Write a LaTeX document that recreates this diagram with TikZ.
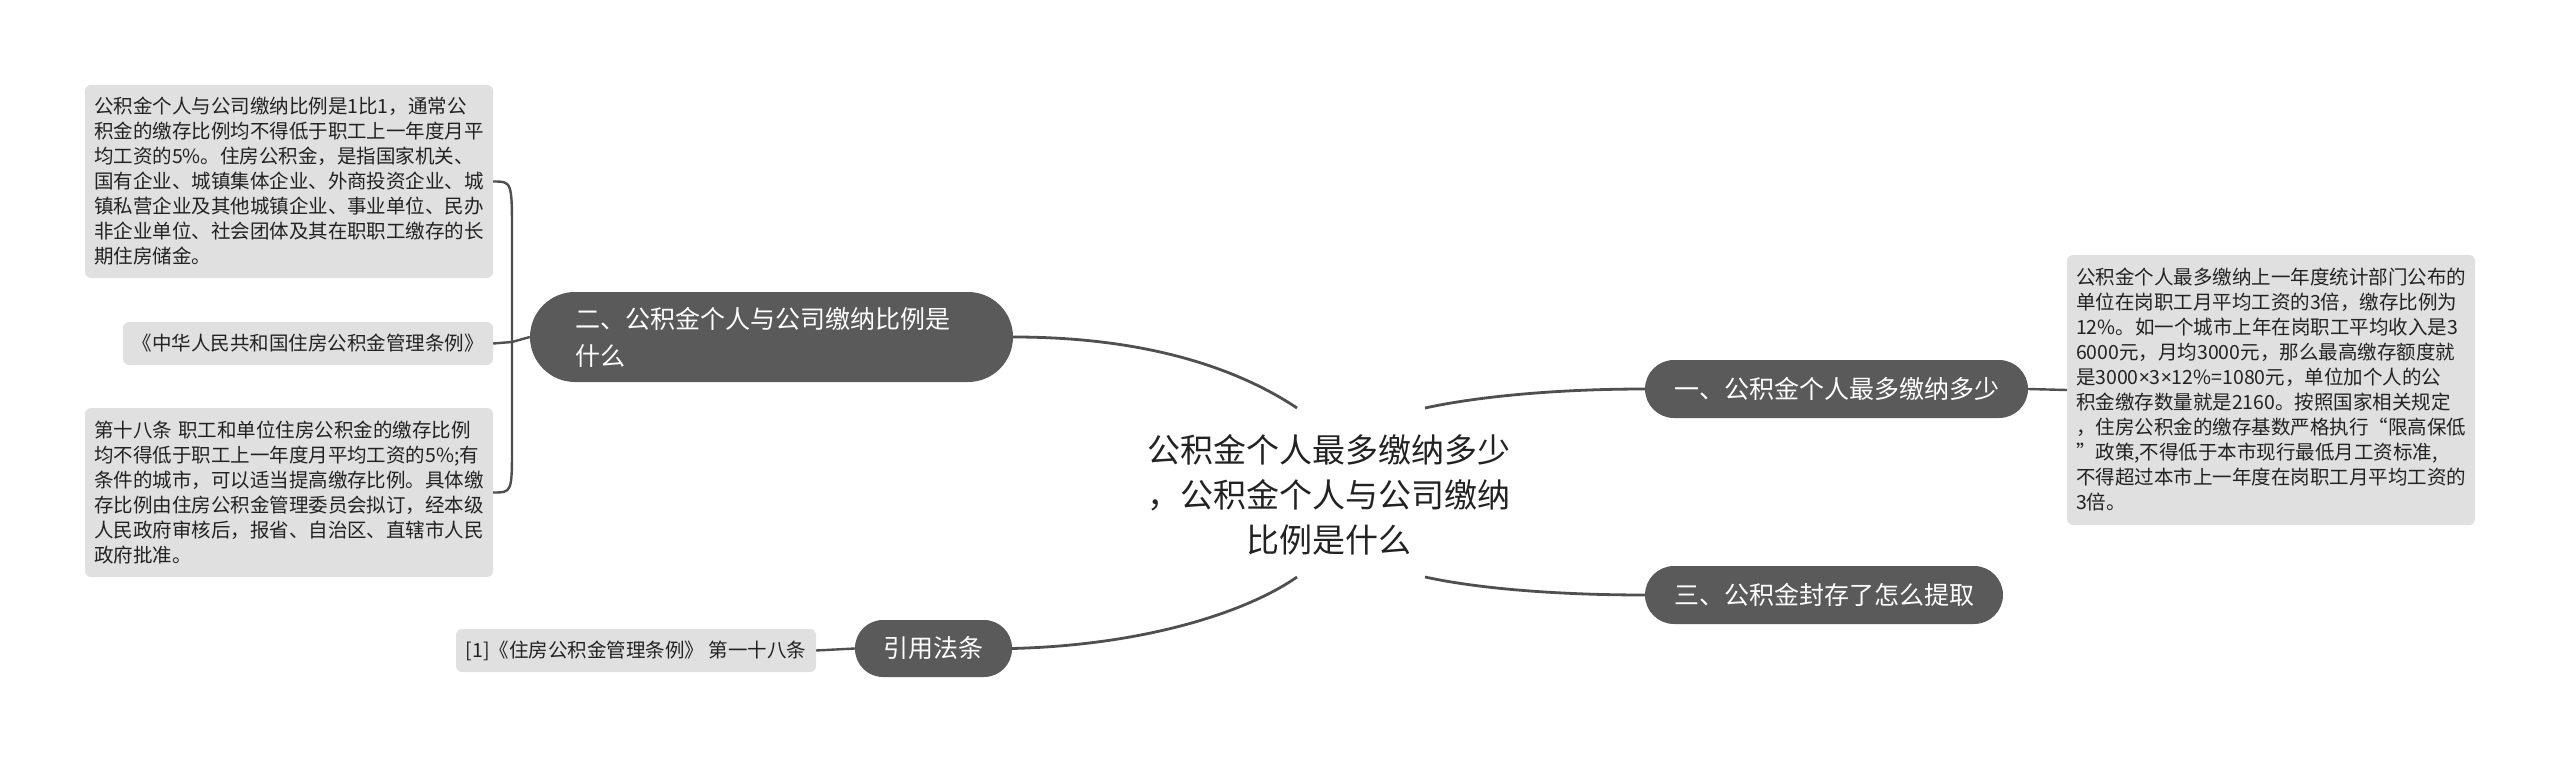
\documentclass[tikz,border=0pt]{standalone}
\usepackage{fontspec}
\setmainfont{Noto Sans CJK SC}
\newfontfamily\latinfont{Noto Sans}
\definecolor{nodefill}{HTML}{5A5A5A}
\definecolor{boxfill}{HTML}{E0E0E0}
\definecolor{linec}{HTML}{4F4F4F}
\definecolor{leaftext}{HTML}{222222}
\begin{document}
\begin{tikzpicture}[x=1pt,y=-1pt,
  topic/.style={fill=nodefill, text=white, inner sep=0pt, font=\fontsize{25}{37}\selectfont},
  leaf/.style={fill=boxfill, rounded corners=6pt, inner sep=0pt, text=leaftext, font=\fontsize{19.5}{25}\selectfont},
  conn/.style={draw=linec, line width=2.8pt},
  thinconn/.style={draw=linec, line width=2.4pt}]
\useasboundingbox (0,0) rectangle (2560,762);
% central
\node[align=center, text=leaftext, font=\fontsize{33}{45}\selectfont] (c) at (1329,495)
  {公积金个人最多缴纳多少\\，公积金个人与公司缴纳\\比例是什么};
\coordinate (ca) at (1297,408);
\coordinate (cb) at (1425,408);
\coordinate (cc) at (1297,577);
\coordinate (cd) at (1425,577);
% topics
\node[topic, rounded corners=45pt, minimum width=483pt, minimum height=90pt, text width=393pt, align=left] (n2) at (771.5,337)
  {二、公积金个人与公司缴纳比例是\\什么};
\node[topic, rounded corners=29pt, minimum width=383pt, minimum height=58pt, align=center] (n1) at (1836.5,389)
  {一、公积金个人最多缴纳多少};
\node[topic, rounded corners=29pt, minimum width=358pt, minimum height=58pt, align=center] (n3) at (1824,595)
  {三、公积金封存了怎么提取};
\node[topic, rounded corners=28pt, minimum width=157pt, minimum height=57pt, align=center] (n4) at (933.5,648.5)
  {引用法条};
% leaves
\node[leaf, minimum width=408pt, minimum height=193pt, text width=390pt, align=left] (b1) at (289,181.5)
  {公积金个人与公司缴纳比例是1比1，通常公\\积金的缴存比例均不得低于职工上一年度月平\\均工资的5\%。住房公积金，是指国家机关、\\国有企业、城镇集体企业、外商投资企业、城\\镇私营企业及其他城镇企业、事业单位、民办\\非企业单位、社会团体及其在职职工缴存的长\\期住房储金。};
\node[leaf, minimum width=370pt, minimum height=43pt, align=center] (b2) at (308,343.5)
  {《中华人民共和国住房公积金管理条例》};
\node[leaf, minimum width=408pt, minimum height=169pt, text width=390pt, align=left] (b3) at (289,492.5)
  {第十八条 职工和单位住房公积金的缴存比例\\均不得低于职工上一年度月平均工资的5\%;有\\条件的城市，可以适当提高缴存比例。具体缴\\存比例由住房公积金管理委员会拟订，经本级\\人民政府审核后，报省、自治区、直辖市人民\\政府批准。};
\node[leaf, minimum width=360pt, minimum height=43pt, align=center] (rf) at (636,650.5)
  {[1]《住房公积金管理条例》 第一十八条};
\node[leaf, minimum width=408pt, minimum height=270pt, text width=390pt, align=left] (rb) at (2271,390)
  {公积金个人最多缴纳上一年度统计部门公布的\\单位在岗职工月平均工资的3倍，缴存比例为\\12\%。如一个城市上年在岗职工平均收入是3\\6000元，月均3000元，那么最高缴存额度就\\是3000{\latinfont ×}3{\latinfont ×}12\%=1080元，单位加个人的公\\积金缴存数量就是2160。按照国家相关规定\\，住房公积金的缴存基数严格执行“限高保低\\”政策,不得低于本市现行最低月工资标准,\\不得超过本市上一年度在岗职工月平均工资的\\3倍。};
% bracket on the left
\coordinate (jn) at (512,342);
\coordinate (jt) at (512,235);
\coordinate (jb) at (512,445);
\draw[thinconn] (n2.west) -- (jn);
\draw[thinconn] (b2.east) -- (jn);
\draw[thinconn] (b1.east) .. controls (jt |- b1.east) .. (jt) -- (jb) .. controls (jb |- b3.east) .. (b3.east);
% main branches
\draw[conn] (n2.east) .. controls (1150,337) and (1240,370) .. (ca);
\draw[conn] (cc) .. controls (1250,610) and (1150,645) .. (n4.east);
\draw[conn] (cb) .. controls (1480,396) and (1560,389) .. (n1.west);
\draw[conn] (cd) .. controls (1480,589) and (1560,595) .. (n3.west);
\draw[thinconn] (n1.east) -- (rb.west);
\draw[thinconn] (rf.east) -- (n4.west);
\end{tikzpicture}
\end{document}
